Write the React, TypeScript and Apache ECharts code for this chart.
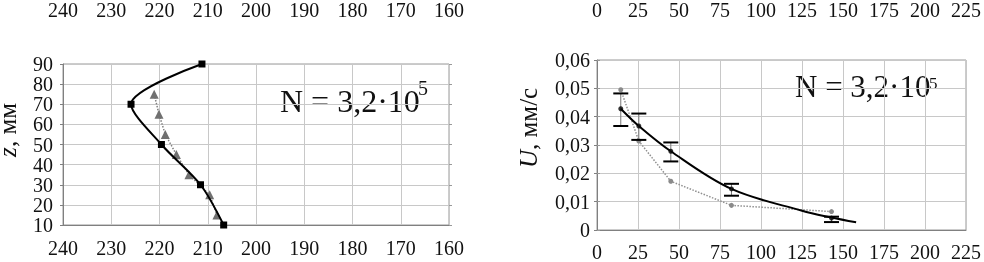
import React, { useEffect, useRef } from "react";
import * as echarts from "echarts";

// Left panel: profile vs depth z (мм)
const zMeasured = [90, 70, 50, 30, 10];
const tMeasured = [211.2, 225.9, 219.6, 211.5, 206.7];
const zCalc = [75, 65, 55, 45, 35, 25, 15];
const tCalc = [221.1, 220.1, 218.8, 216.5, 213.9, 209.6, 208.1];
const leftTicks = [160, 170, 180, 190, 200, 210, 220, 230, 240];

// Right panel: velocity U (мм/с)
const rX = [14.5, 25.5, 45, 82, 143];
const uMeasured = [0.0428, 0.0367, 0.0278, 0.0145, 0.0042];
const uLow = [0.0367, 0.0318, 0.0242, 0.0121, 0.0028];
const uHigh = [0.0482, 0.0411, 0.0309, 0.0163, 0.0047];
const uCalc = [0.0495, 0.0314, 0.0172, 0.0087, 0.0065];
const fitX = [14.5, 25.5, 45, 82, 125, 143, 158];
const fitU = [0.0428, 0.0367, 0.0278, 0.0145, 0.0068, 0.0044, 0.0027];
const rightTicks = [0, 25, 50, 75, 100, 125, 150, 175, 200, 225];

const FONT = "Times New Roman";
const label = { fontFamily: FONT, fontSize: 20, color: "#111" };
const gridLine = { show: true, lineStyle: { color: "#c8c8c8", width: 1 } };
const axisLine = { show: true, lineStyle: { color: "#808080", width: 1 } };

export default function App() {
  const ref = useRef<HTMLDivElement>(null);
  useEffect(() => {
    if (!ref.current) return;
    const chart = echarts.init(ref.current, null, { renderer: "svg" });
    const fmtU = (v: number) => (Math.abs(v) < 1e-9 ? "0" : v.toFixed(2).replace(".", ","));
    chart.setOption({
      animation: false,
      textStyle: { fontFamily: FONT, color: "#111" },
      grid: [
        { left: 63, top: 54, width: 386, height: 171, show: true, borderColor: "#999", borderWidth: 1 },
        { left: 597, top: 57, width: 373, height: 175, show: true, borderColor: "#999", borderWidth: 1 },
      ],
      xAxis: [
        {
          gridIndex: 0, type: "value", position: "bottom", min: leftTicks[0], max: leftTicks[leftTicks.length - 1],
          interval: 10, inverse: true, axisLine, axisTick: { show: false }, splitLine: gridLine,
          axisLabel: { ...label, margin: 13 },
        },
        {
          gridIndex: 0, type: "value", position: "top", offset: 34, min: leftTicks[0], max: leftTicks[leftTicks.length - 1],
          interval: 10, inverse: true, axisLine: { show: false }, axisTick: { show: false }, splitLine: { show: false },
          axisLabel: { ...label, margin: 10 },
        },
        {
          gridIndex: 1, type: "value", position: "bottom", min: rightTicks[0], max: rightTicks[rightTicks.length - 1],
          interval: 25, axisLine, axisTick: { show: false }, splitLine: gridLine,
          axisLabel: { ...label, margin: 12 },
        },
        {
          gridIndex: 1, type: "value", position: "top", offset: 30, min: rightTicks[0], max: rightTicks[rightTicks.length - 1],
          interval: 25, axisLine: { show: false }, axisTick: { show: false }, splitLine: { show: false },
          axisLabel: { ...label, margin: 10 },
        },
      ],
      yAxis: [
        {
          gridIndex: 0, type: "value", position: "left", min: 10, max: 90, interval: 10,
          axisLine, axisTick: { show: true, length: 3, lineStyle: { color: "#808080" } }, splitLine: gridLine,
          axisLabel: { ...label, margin: 10 },
        },
        {
          gridIndex: 0, type: "value", position: "right", min: 10, max: 90, interval: 10,
          axisLine: { show: false }, axisTick: { show: true, length: 3, lineStyle: { color: "#999" } },
          splitLine: { show: false }, axisLabel: { show: false },
        },
        {
          gridIndex: 1, type: "value", position: "left", min: 0, max: 0.06, interval: 0.01,
          axisLine, axisTick: { show: true, length: 3, lineStyle: { color: "#808080" } }, splitLine: gridLine,
          axisLabel: { ...label, margin: 7, formatter: fmtU },
        },
        {
          gridIndex: 1, type: "value", position: "right", min: 0, max: 0.06, interval: 0.01,
          axisLine: { show: false }, axisTick: { show: true, length: 3, lineStyle: { color: "#999" } },
          splitLine: { show: false }, axisLabel: { show: false },
        },
      ],
      series: [
        {
          type: "line", xAxisIndex: 0, yAxisIndex: 0,
          data: zCalc.map((z, i) => [tCalc[i], z]),
          symbol: "triangle", symbolSize: 9, itemStyle: { color: "#707070" },
          lineStyle: { color: "#808080", width: 1.5, type: "dotted" }, z: 3,
        },
        {
          type: "line", xAxisIndex: 0, yAxisIndex: 0,
          data: zMeasured.map((z, i) => [tMeasured[i], z]),
          smooth: 0.3,
          symbol: "rect", symbolSize: 7, itemStyle: { color: "#000" },
          lineStyle: { color: "#000", width: 2 }, z: 4,
        },
        {
          type: "line", xAxisIndex: 2, yAxisIndex: 2,
          data: rX.map((x, i) => [x, uCalc[i]]),
          symbol: "circle", symbolSize: 5, itemStyle: { color: "#8a8a8a" },
          lineStyle: { color: "#909090", width: 1.5, type: "dotted" }, z: 3,
        },
        {
          type: "line", xAxisIndex: 2, yAxisIndex: 2,
          data: fitX.map((x, i) => [x, fitU[i]]),
          smooth: 0.35, showSymbol: false, symbol: "none",
          lineStyle: { color: "#000", width: 2 }, z: 4,
        },
        {
          type: "custom", xAxisIndex: 2, yAxisIndex: 2,
          data: rX.map((x, i) => [x, uLow[i], uHigh[i]]),
          encode: { x: 0, y: [1, 2] },
          renderItem: (_p: any, api: any) => {
            const x = api.value(0);
            const lo = api.coord([x, api.value(1)]);
            const hi = api.coord([x, api.value(2)]);
            const hw = 7.5;
            return {
              type: "group",
              children: [
                { type: "line", shape: { x1: lo[0], y1: lo[1], x2: hi[0], y2: hi[1] }, style: { stroke: "#777", lineWidth: 1 } },
                { type: "line", shape: { x1: lo[0] - hw, y1: lo[1], x2: lo[0] + hw, y2: lo[1] }, style: { stroke: "#000", lineWidth: 2 } },
                { type: "line", shape: { x1: hi[0] - hw, y1: hi[1], x2: hi[0] + hw, y2: hi[1] }, style: { stroke: "#000", lineWidth: 2 } },
              ],
            };
          },
          z: 5,
        },
        {
          type: "scatter", xAxisIndex: 2, yAxisIndex: 2,
          data: rX.map((x, i) => [x, uMeasured[i]]),
          symbol: "circle", symbolSize: 5, itemStyle: { color: "#000" }, z: 6,
        },
      ],
      graphic: [
        { type: "text", x: -5, y: 157, rotation: Math.PI / 2,
          style: { text: "z", font: "italic 25px 'Liberation Serif'", fill: "#111" } },
        { type: "text", x: -5, y: 147, rotation: Math.PI / 2,
          style: { text: ", мм", font: "25px 'Liberation Serif'", fill: "#111" } },
        { type: "text", x: 516, y: 168, rotation: Math.PI / 2,
          style: { text: "U", font: "italic 25px 'Liberation Serif'", fill: "#111" } },
        { type: "text", x: 516, y: 150, rotation: Math.PI / 2,
          style: { text: ", мм/с", font: "25px 'Liberation Serif'", fill: "#111" } },
        { type: "text", x: 280, y: 85,
          style: { text: "N = 3,2·10", font: "32px 'Liberation Serif'", fill: "#111" } },
        { type: "text", x: 418, y: 78,
          style: { text: "5", font: "20px 'Liberation Serif'", fill: "#111" } },
        { type: "text", x: 795, y: 71,
          style: { text: "N = 3,2·10", font: "31px 'Liberation Serif'", fill: "#111" } },
        { type: "text", x: 929, y: 75,
          style: { text: "5", font: "17px 'Liberation Serif'", fill: "#111" } },
      ],
    });
    return () => chart.dispose();
  }, []);
  return <div ref={ref} style={{ position: "fixed", left: 0, top: 0, width: 984, height: 262 }} />;
}
